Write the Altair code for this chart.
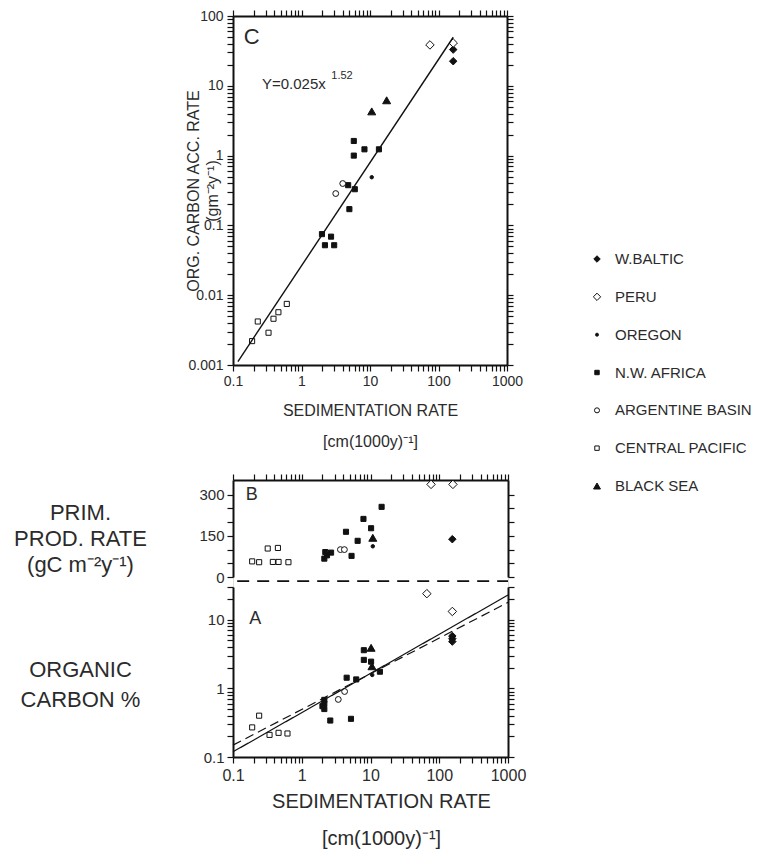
import altair as alt
import pandas as pd

# ---------------- data ----------------
SITES = ["W.BALTIC", "PERU", "OREGON", "N.W. AFRICA", "ARGENTINE BASIN",
         "CENTRAL PACIFIC", "BLACK SEA"]

# Panel C : organic carbon accumulation rate vs sedimentation rate
C_WBALTIC_X = [164, 164]
C_WBALTIC_Y = [33, 22.5]
C_PERU_X = [75, 164]
C_PERU_Y = [38.5, 41]
C_OREGON_X = [10.6]
C_OREGON_Y = [0.49]
C_NWAFRICA_X = [5.8, 5.8, 8.3, 13.5, 4.8, 6.0, 5.0, 1.99, 2.7, 2.2, 3.0]
C_NWAFRICA_Y = [1.62, 1.0, 1.23, 1.23, 0.377, 0.33, 0.171, 0.075, 0.069, 0.052, 0.052]
C_ARGENTINE_X = [4.0, 3.16]
C_ARGENTINE_Y = [0.398, 0.286]
C_CPACIFIC_X = [0.61, 0.46, 0.39, 0.23, 0.33, 0.19]
C_CPACIFIC_Y = [0.0075, 0.0057, 0.0046, 0.0042, 0.0029, 0.0022]
C_BLACKSEA_X = [10.6, 17.5]
C_BLACKSEA_Y = [4.3, 6.2]
C_FIT_X = [0.118, 164]          # Y = 0.025 x^1.52 (end points of drawn line)
C_FIT_Y = [0.00112, 49.6]

# Panel B : primary production rate
B_WBALTIC_X = [155]
B_WBALTIC_Y = [138]
B_PERU_X = [76, 158]
B_PERU_Y = [338, 338]
B_OREGON_X = [10.8]
B_OREGON_Y = [112]
B_NWAFRICA_X = [2.13, 2.33, 2.2, 2.67, 4.4, 6.5, 5.3, 7.9, 10.2, 14.5]
B_NWAFRICA_Y = [67, 79, 91, 89, 165, 132, 77, 212, 178, 256]
B_ARGENTINE_X = [3.65, 4.17]
B_ARGENTINE_Y = [100, 100]
B_CPACIFIC_X = [0.19, 0.24, 0.32, 0.45, 0.38, 0.46, 0.64]
B_CPACIFIC_Y = [57, 54, 104, 106, 55, 55, 54]
B_BLACKSEA_X = [10.8]
B_BLACKSEA_Y = [143]

# Panel A : organic carbon %
A_WBALTIC_X = [155, 155, 155]
A_WBALTIC_Y = [5.8, 5.3, 4.8]
A_PERU_X = [66, 155]
A_PERU_Y = [24, 13.2]
A_OREGON_X = [10.6]
A_OREGON_Y = [1.57]
A_NWAFRICA_X = [8.0, 8.0, 10.2, 13.7, 4.5, 6.2, 2.13, 2.13, 2.13, 2.0, 2.6, 5.2]
A_NWAFRICA_Y = [3.6, 2.6, 2.45, 1.75, 1.43, 1.35, 0.68, 0.6, 0.5, 0.55, 0.34, 0.36]
A_ARGENTINE_X = [3.4, 4.2]
A_ARGENTINE_Y = [0.69, 0.9]
A_CPACIFIC_X = [0.24, 0.19, 0.34, 0.46, 0.62]
A_CPACIFIC_Y = [0.4, 0.27, 0.21, 0.225, 0.22]
A_BLACKSEA_X = [10.2, 10.5]
A_BLACKSEA_Y = [3.9, 2.1]
A_FIT_SOLID_X = [0.1, 1000]
A_FIT_SOLID_Y = [0.119, 22.9]
A_FIT_DASH_X = [0.1, 1000]
A_FIT_DASH_Y = [0.149, 17.9]

# axis ticks
LOG_EXPS_X = [-1, 0, 1, 2, 3]
LOG_EXPS_C_Y = [-3, -2, -1, 0, 1, 2]
LOG_EXPS_A_Y = [-1, 0, 1]
A_Y_EXTRA = [20.0, 30.0]
B_Y_TICKS = [0, 50, 100, 150, 200, 250, 300]
B_Y_LABELS = [0, 150, 300]

# ---------------- styles ----------------
SHAPES = ["diamond", "diamond", "circle", "square", "circle", "square", "triangle-up"]
FILLS = ["#111111", "white", "#111111", "#111111", "white", "white", "#111111"]
SIZES = [56, 72, 12, 26, 34, 26, 64]
FONT = "Liberation Sans"
TXT = "#2b2b2b"
INK = "#111111"
SIZE_OF = dict(zip(SITES, SIZES))


def frame(pairs):
    rows = []
    for site, xs, ys in pairs:
        for x, y in zip(xs, ys):
            rows.append({"site": site, "x": x, "y": y, "sz": SIZE_OF[site]})
    return pd.DataFrame(rows)


def log_ticks(exps, extra=()):
    vals = []
    for e in exps[:-1]:
        for m in range(1, 10):
            vals.append(float(f"{m}e{e}"))
    vals.append(float(f"1e{exps[-1]}"))
    return vals + list(extra)


df_c = frame([
    ("W.BALTIC", C_WBALTIC_X, C_WBALTIC_Y), ("PERU", C_PERU_X, C_PERU_Y),
    ("OREGON", C_OREGON_X, C_OREGON_Y), ("N.W. AFRICA", C_NWAFRICA_X, C_NWAFRICA_Y),
    ("ARGENTINE BASIN", C_ARGENTINE_X, C_ARGENTINE_Y),
    ("CENTRAL PACIFIC", C_CPACIFIC_X, C_CPACIFIC_Y), ("BLACK SEA", C_BLACKSEA_X, C_BLACKSEA_Y)])
df_b = frame([
    ("W.BALTIC", B_WBALTIC_X, B_WBALTIC_Y), ("PERU", B_PERU_X, B_PERU_Y),
    ("OREGON", B_OREGON_X, B_OREGON_Y), ("N.W. AFRICA", B_NWAFRICA_X, B_NWAFRICA_Y),
    ("ARGENTINE BASIN", B_ARGENTINE_X, B_ARGENTINE_Y),
    ("CENTRAL PACIFIC", B_CPACIFIC_X, B_CPACIFIC_Y), ("BLACK SEA", B_BLACKSEA_X, B_BLACKSEA_Y)])
df_a = frame([
    ("W.BALTIC", A_WBALTIC_X, A_WBALTIC_Y), ("PERU", A_PERU_X, A_PERU_Y),
    ("OREGON", A_OREGON_X, A_OREGON_Y), ("N.W. AFRICA", A_NWAFRICA_X, A_NWAFRICA_Y),
    ("ARGENTINE BASIN", A_ARGENTINE_X, A_ARGENTINE_Y),
    ("CENTRAL PACIFIC", A_CPACIFIC_X, A_CPACIFIC_Y), ("BLACK SEA", A_BLACKSEA_X, A_BLACKSEA_Y)])
df_cfit = pd.DataFrame({"x": C_FIT_X, "y": C_FIT_Y})
df_afit = pd.concat([
    pd.DataFrame({"x": A_FIT_SOLID_X, "y": A_FIT_SOLID_Y, "kind": "solid"}),
    pd.DataFrame({"x": A_FIT_DASH_X, "y": A_FIT_DASH_Y, "kind": "dash"})])
df_leg = pd.DataFrame({"site": SITES, "idx": list(range(len(SITES))),
                       "sz": [s * 0.75 for s in SIZES]})

X_TICKS = log_ticks(LOG_EXPS_X)
C_Y_TICKS = log_ticks(LOG_EXPS_C_Y)
A_Y_TICKS = log_ticks(LOG_EXPS_A_Y, A_Y_EXTRA)
DECADE_LABEL = ("abs(log(datum.value)/LN10 - round(log(datum.value)/LN10)) < 1e-6 "
                "? format(datum.value, '~g') : ''")

W = 275
H_C = 349
H_B = 97          # upper strip (B) of the lower panel
GAP_BA = 10
H_A = 170
H_BA = H_B + GAP_BA + H_A

xscale = alt.Scale(type="log", domain=[0.1, 1000])
cscale_y = alt.Scale(type="log", domain=[0.001, 100])
bscale_y = alt.Scale(domain=[0, 354], range=[H_B, 0])
ascale_y = alt.Scale(type="log", domain=[0.1, 30], range=[H_BA, H_B + GAP_BA])

common = dict(domainColor=INK, domainWidth=2, tickColor=INK, tickWidth=1.2, tickSize=6,
              labelFont=FONT, labelColor=TXT, grid=False, labelOverlap=False,
              labelFlush=False, titleFont=FONT, titleColor=TXT, titleFontWeight="normal")
bare = dict(common, labels=False, title="")

shape_enc = alt.Shape("site:N", scale=alt.Scale(domain=SITES, range=SHAPES), legend=None)
fill_enc = alt.Fill("site:N", scale=alt.Scale(domain=SITES, range=FILLS), legend=None)
size_enc = alt.Size("sz:Q", scale=None, legend=None)


def points(df, x, y):
    return alt.Chart(df).mark_point(filled=False, stroke=INK, strokeWidth=1, opacity=1).encode(
        x=x, y=y, shape=shape_enc, fill=fill_enc, size=size_enc)


def label(txt, xv, yv, xs, ys, size, **kw):
    return alt.Chart(pd.DataFrame({"x": [xv], "y": [yv], "t": [txt]})).mark_text(
        font=FONT, fontSize=size, color=TXT, **kw).encode(
        x=alt.X("x:Q", scale=xs, axis=None), y=alt.Y("y:Q", scale=ys, axis=None), text="t:N")


# ---------------- panel C (+ key to the symbols, drawn to its right) ----------------
c_pts = points(
    df_c,
    alt.X("x:Q", scale=xscale, axis=alt.Axis(
        orient="bottom", values=X_TICKS, labelExpr=DECADE_LABEL, labelFontSize=14,
        labelPadding=3, title=["SEDIMENTATION RATE", "[cm(1000y)⁻¹]"], titleFontSize=16,
        titleLineHeight=31, titlePadding=14, **common)),
    alt.Y("y:Q", scale=cscale_y, axis=alt.Axis(
        orient="left", values=C_Y_TICKS, labelExpr=DECADE_LABEL, labelFontSize=14,
        labelPadding=4, title=["ORG. CARBON ACC. RATE", "(gm⁻²y⁻¹)"], titleFontSize=16,
        titleLineHeight=19, titleX=-32, titleY=H_C / 2, titleBaseline="bottom",
        titleAngle=270, **common)))
c_fit = alt.Chart(df_cfit).mark_line(color=INK, strokeWidth=1.4).encode(
    x=alt.X("x:Q", scale=xscale, axis=alt.Axis(orient="top", values=X_TICKS, **bare)),
    y=alt.Y("y:Q", scale=cscale_y, axis=alt.Axis(orient="right", values=C_Y_TICKS, **bare)))
c_letter = label("C", 0.187, 49.7, xscale, cscale_y, 22)
c_eq = label("Y=0.025x", 0.265, 10.7, xscale, cscale_y, 15, align="left", baseline="middle")
c_eq_sup = label("1.52", 2.72, 13.8, xscale, cscale_y, 11, align="left", baseline="middle")

leg_y = alt.Y("idx:Q", scale=alt.Scale(domain=[0, len(SITES) - 1], range=[243, 470]), axis=None)
leg_xs = alt.Scale(domain=[0, 1], range=[364, 382])
leg_pts = alt.Chart(df_leg).mark_point(filled=False, stroke=INK, strokeWidth=1, opacity=1).encode(
    x=alt.X(datum=0, scale=leg_xs, axis=None), y=leg_y, shape=shape_enc, fill=fill_enc,
    size=size_enc)
leg_txt = alt.Chart(df_leg).mark_text(font=FONT, fontSize=15, color=TXT, align="left",
                                      baseline="middle").encode(
    x=alt.X(datum=1, scale=leg_xs, axis=None), y=leg_y, text="site:N")

panel_c = alt.layer(c_pts, c_fit, c_letter, c_eq, c_eq_sup, leg_pts, leg_txt).resolve_scale(
    x="independent", y="independent").resolve_axis(
    x="independent", y="independent").properties(width=W - 1, height=H_C)

# ---------------- panels B and A (one view, two y scales) ----------------
b_pts = points(
    df_b,
    alt.X("x:Q", scale=xscale, axis=alt.Axis(orient="top", values=X_TICKS, **bare)),
    alt.Y("y:Q", scale=bscale_y, axis=alt.Axis(
        orient="left", values=B_Y_TICKS,
        labelExpr="indexof(%s, datum.value) >= 0 ? datum.label : ''" % B_Y_LABELS,
        labelFontSize=15, labelPadding=3,
        title=["PRIM.", "PROD. RATE", "(gC m⁻²y⁻¹)"], titleFontSize=22, titleLineHeight=26,
        titleAngle=0, titleAlign="center", titleBaseline="top", titleX=-153, titleY=22,
        **common)))
b_break = alt.Chart(pd.DataFrame({"x": [0.115], "x2": [1000], "y": [-15]})).mark_rule(
    color=INK, strokeWidth=1.6, strokeDash=[12, 8]).encode(
    x=alt.X("x:Q", scale=xscale, axis=None), x2="x2:Q",
    y=alt.Y("y:Q", scale=bscale_y, axis=alt.Axis(orient="right", values=B_Y_TICKS, **bare)))
b_letter = label("B", 0.187, 299, xscale, bscale_y, 18)

a_pts = points(
    df_a,
    alt.X("x:Q", scale=xscale, axis=alt.Axis(
        orient="bottom", values=X_TICKS, labelExpr=DECADE_LABEL, labelFontSize=16,
        labelPadding=4, title=["SEDIMENTATION RATE", "[cm(1000y)⁻¹]"], titleFontSize=20,
        titleLineHeight=37, titlePadding=8, titleX=148, **common)),
    alt.Y("y:Q", scale=ascale_y, axis=alt.Axis(
        orient="left", values=A_Y_TICKS, labelExpr=DECADE_LABEL, labelFontSize=15,
        labelPadding=3, title=["ORGANIC", "CARBON %"], titleFontSize=22, titleLineHeight=30,
        titleAngle=0, titleAlign="center", titleBaseline="top", titleX=-153,
        titleY=H_B + GAP_BA + 72, **common)))
a_fit = alt.Chart(df_afit).mark_line(color=INK, strokeWidth=1.2).encode(
    x=alt.X("x:Q", scale=xscale, axis=None),
    y=alt.Y("y:Q", scale=ascale_y, axis=alt.Axis(orient="right", values=A_Y_TICKS, **bare)),
    detail="kind:N",
    strokeDash=alt.StrokeDash("kind:N", scale=alt.Scale(domain=["solid", "dash"],
                                                         range=[[1, 0], [9, 5]]), legend=None))
a_letter = label("A", 0.21, 10.3, xscale, ascale_y, 18)

panel_ba = alt.layer(b_pts, b_break, b_letter, a_pts, a_fit, a_letter).resolve_scale(
    y="independent").resolve_axis(x="independent", y="independent").properties(
    width=W, height=H_BA)

chart = alt.vconcat(panel_c, panel_ba, spacing=115, bounds="flush").properties(
    padding={"left": 5, "top": 0, "right": 0, "bottom": 0}
).configure_view(strokeWidth=0).configure(font=FONT)

chart.save("out.html", embed_options={"renderer": "svg", "actions": False})
